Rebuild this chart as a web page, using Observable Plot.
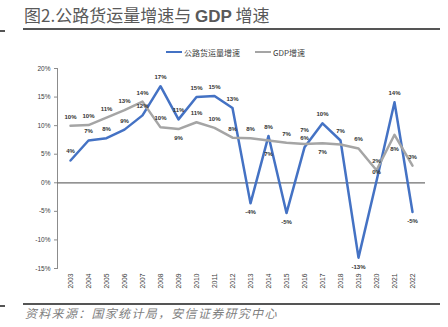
<!DOCTYPE html>
<html><head><meta charset="utf-8">
<script src="https://cdn.jsdelivr.net/npm/d3@7"></script>
<script src="https://cdn.jsdelivr.net/npm/@observablehq/plot@0.6"></script>
<style>
body{margin:0;background:#fff;width:448px;height:327px;position:relative;overflow:hidden;font-family:"Liberation Sans",Arial,sans-serif;}
#title{position:absolute;left:24px;top:4px;font-size:17px;line-height:22px;font-family:"Noto Sans CJK SC";color:#595959;white-space:nowrap;}
#title b{font-family:"Liberation Sans";font-weight:bold;}
.rule{position:absolute;background:#555;height:2px;}
#legend{position:absolute;top:46px;left:0;width:448px;height:12px;font-size:8px;font-family:"Noto Sans CJK SC";color:#404040;}
.lg{position:absolute;top:0;display:flex;align-items:center;height:12px;white-space:nowrap;}
.sw{display:inline-block;width:16px;height:2.5px;margin-right:2px;}
#chart{position:absolute;left:0;top:58px;}
#caption{position:absolute;left:25px;top:304px;font-size:12px;line-height:18px;font-style:italic;font-family:"Noto Sans CJK SC";color:#7f7f7f;letter-spacing:1.3px;white-space:nowrap;}
</style></head>
<body>
<div id="title">图2.公路货运量增速与 <b>GDP</b> 增速</div>
<div class="rule" style="left:0;width:5px;top:30px"></div>
<div class="rule" style="left:23px;width:417px;top:28px"></div>
<div id="legend"></div>
<div id="chart"></div>
<div class="rule" style="left:0;width:5px;top:305px"></div>
<div class="rule" style="left:23px;width:417px;top:303px"></div>
<div id="caption">资料来源：国家统计局，安信证券研究中心</div>
<script>
const years = ["2003","2004","2005","2006","2007","2008","2009","2010","2011","2012","2013","2014","2015","2016","2017","2018","2019","2020","2021","2022"];
const freightGrowth = [3.9,7.4,7.8,9.3,11.8,16.9,11.1,15.0,15.2,13.1,-3.6,8.2,-5.3,6.2,10.4,7.4,-13.1,0.3,14.1,-5.1];
const gdpGrowth = [10.0,10.1,11.4,12.7,14.2,9.7,9.4,10.6,9.6,7.9,7.8,7.4,7.0,6.8,6.9,6.7,6.0,2.2,8.4,3.0];
const freightLabelPos = ["above","above","above","above","above","above","above","above","above","above","below","above","below","above","above","above","below","above","above","below"];
const gdpLabelPos = ["above","above","above","above","above","above","below","above","above","above","above","farBelow","above","farAbove","below","none","above","above","farBelow","above"];
const seriesNames = ["公路货运量增速","GDP增速"];
const seriesColors = ["#4472C4","#A5A5A5"];
const yTicks = [-15,-10,-5,0,5,10,15,20];

const rows = [];
years.forEach((y,i)=>rows.push({year:y,value:freightGrowth[i],series:seriesNames[0],pos:freightLabelPos[i]}));
years.forEach((y,i)=>rows.push({year:y,value:gdpGrowth[i],series:seriesNames[1],pos:gdpLabelPos[i]}));
const fmt = d => Math.round(d) + "%";

const lg = document.getElementById("legend");
const lgX = [166, 255];
seriesNames.forEach((n,i)=>{
  const d = document.createElement("div");
  d.className = "lg"; d.style.left = lgX[i] + "px";
  d.innerHTML = `<span class="sw" style="background:${seriesColors[i]}"></span>${n}`;
  lg.appendChild(d);
});

const labelOffsets = {above: -9, farAbove: -14, below: 9, farBelow: 14};
const labelMarks = Object.entries(labelOffsets).map(([pos, dy]) =>
  Plot.text(rows.filter(d => d.pos === pos), {x: "year", y: "value", text: d => fmt(d.value), dy, fontSize: 6, fontWeight: "bold", fill: "#333"})
);

const chart = Plot.plot({
  width: 448, height: 245,
  marginTop: 10, marginLeft: 57, marginRight: 23, marginBottom: 35,
  style: {fontFamily: "Liberation Sans, Arial, sans-serif", color: "#404040", background: "transparent"},
  x: {type: "point", domain: years, padding: 0.5},
  y: {domain: [-15, 20]},
  color: {domain: seriesNames, range: seriesColors},
  marks: [
    Plot.frame({anchor: "left", stroke: "#8c8c8c"}),
    Plot.ruleY([0], {stroke: "#6f6f6f", strokeWidth: 1.2}),
    Plot.axisY({ticks: yTicks, tickFormat: d => d + "%", tickSize: 3, tickPadding: 4, fontSize: 6.5, stroke: "#8c8c8c", label: null}),
    Plot.axisX({tickRotate: -90, tickSize: 0, tickPadding: 5, fontSize: 6.7, label: null}),
    Plot.line(rows, {x: "year", y: "value", z: "series", stroke: "series", strokeWidth: 2.5}),
    ...labelMarks
  ]
});
document.getElementById("chart").appendChild(chart);
</script>
</body></html>
